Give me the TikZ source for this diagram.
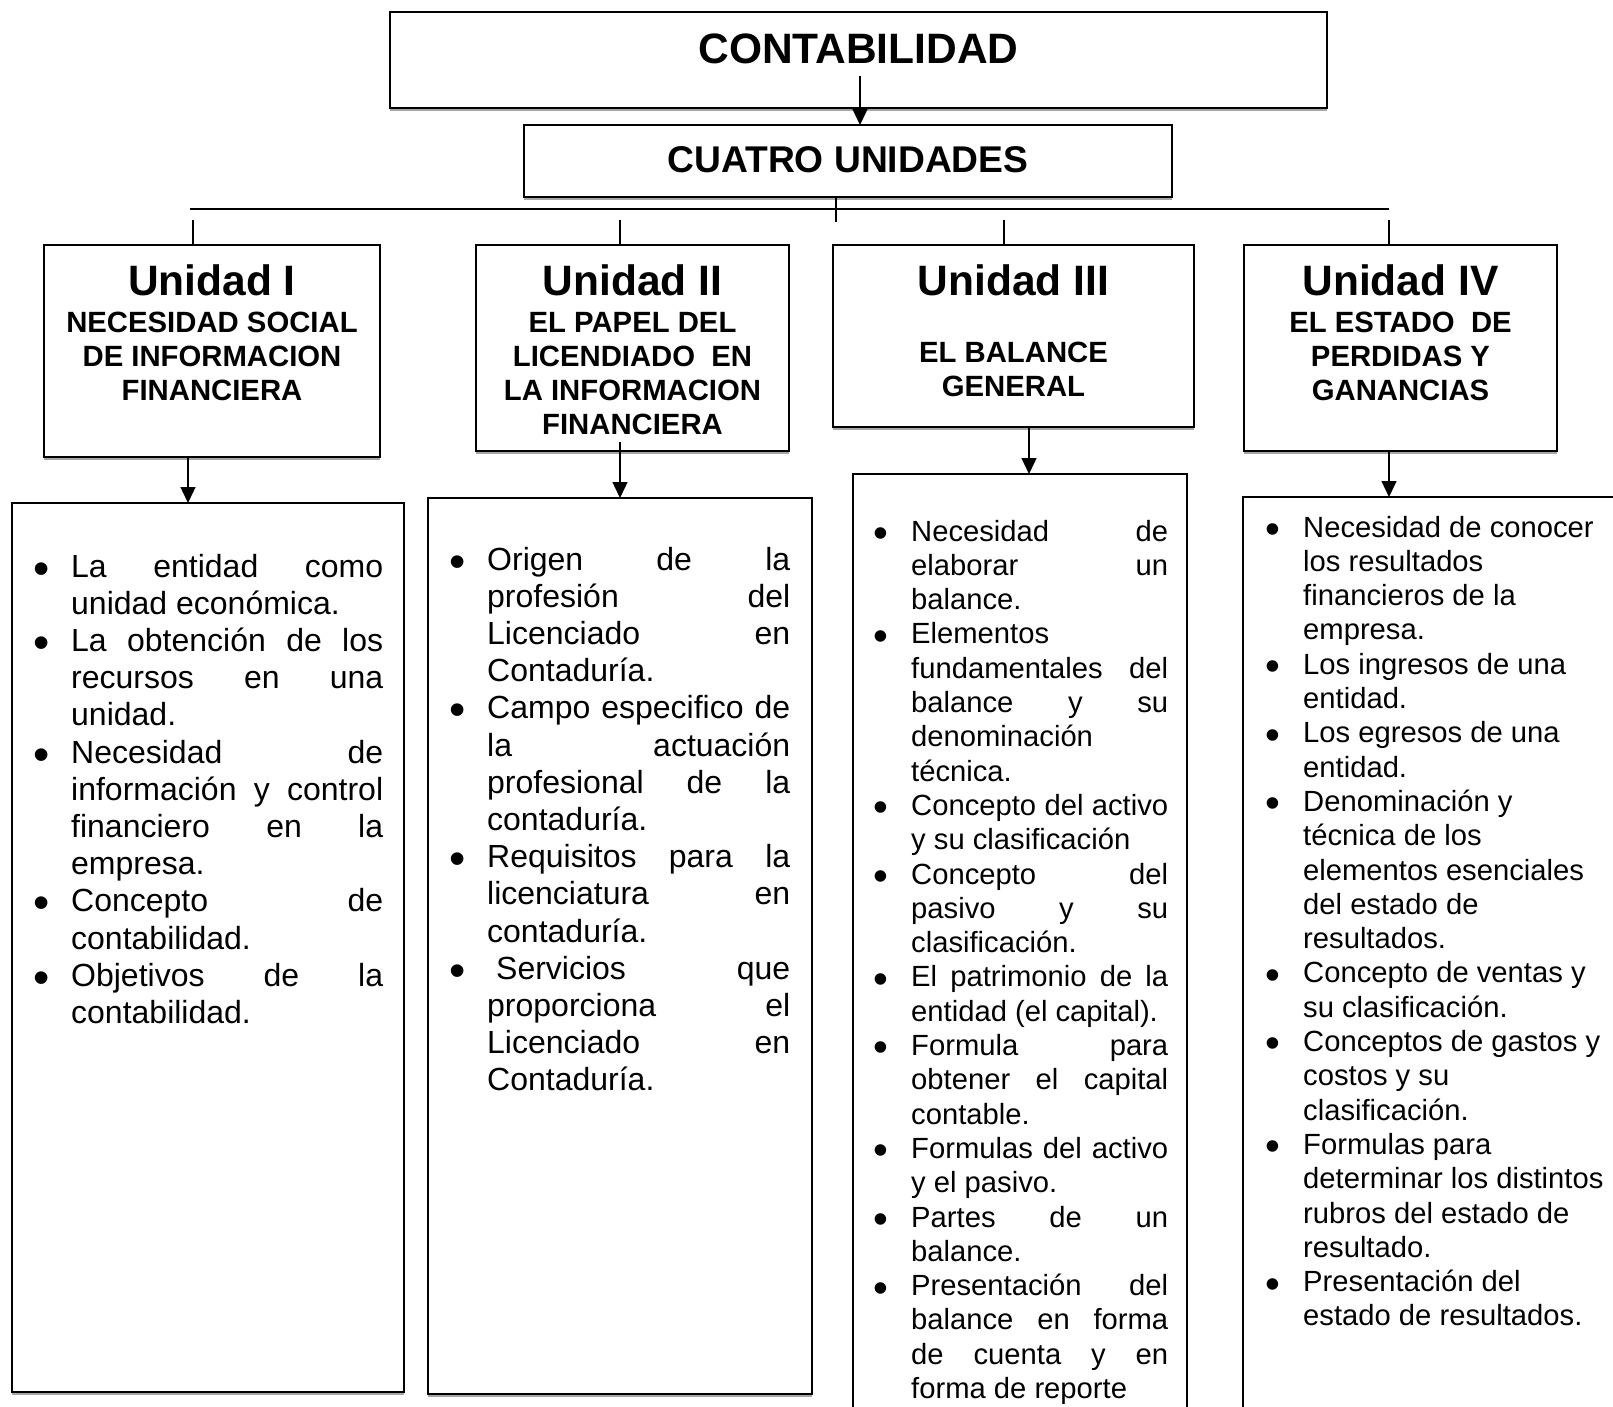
\documentclass[tikz,border=0pt]{standalone}
\usepackage{fontspec}
\setmainfont{Liberation Sans}
\usepackage{graphicx}
\usetikzlibrary{calc, arrows.meta}

\newlength\bulw
\setlength\bulw{36pt}
\newcommand\fbig{\fontsize{42.5pt}{50pt}\selectfont\bfseries}
\newcommand\fmid{\fontsize{37.2pt}{44pt}\selectfont\bfseries}
\newcommand\fsub{\fontsize{29.3pt}{34pt}\selectfont\bfseries}
\newcommand\fbody{\fontsize{32pt}{37.2pt}\selectfont}
\newcommand\fsmall{\fontsize{29.2pt}{34.3pt}\selectfont}
\newcommand\bul{\raisebox{-0.22em}{\scalebox{1.45}{\textbullet}}}
\newcommand\itm{\par\noindent\hangindent=\bulw\hangafter=1\makebox[\bulw][l]{\hspace{-1.5pt}\bul}}
\newcommand\lista[2]{\parbox[t]{\dimexpr#1+\bulw}{\hyphenpenalty=10000\exhyphenpenalty=10000#2}}
\tolerance=10000
\hbadness=10000

\tikzset{
  box/.style = {draw, line width=1.6pt, inner sep=0pt, outer sep=0pt, anchor=north west},
  shadeline/.style = {draw=black!35, line width=1.2pt},
  conn/.style = {line width=1.3pt},
  arr/.style = {conn, -{Triangle[width=15pt, length=16pt]}},
  txt/.style = {inner sep=0pt, anchor=base},
}

\begin{document}
\begin{tikzpicture}[x=1pt, y=-1pt]
  \useasboundingbox (0,0) rectangle (1613,1406);
  \clip (0,0) rectangle (1613,1406);

  % cajas de arriba
  \node[box, minimum width=937pt, minimum height=96pt] (contab) at (390,12) {};
  \node[box, minimum width=648pt, minimum height=72pt] (cuatro) at (524,125) {};
  \node[txt] (contabtxt) at ([yshift=-51pt]contab.north) {\fbig CONTABILIDAD};
  \node[txt] (cuatrotxt) at ([yshift=-47pt]cuatro.north) {\fmid CUATRO UNIDADES};

  % unidades
  \node[box, minimum width=336pt, minimum height=212pt] (u1) at (44,245) {};
  \node[box, minimum width=313pt, minimum height=206pt] (u2) at (476,245) {};
  \node[box, minimum width=361pt, minimum height=182pt] (u3) at (833,245) {};
  \node[box, minimum width=313pt, minimum height=206pt] (u4) at (1244,245) {};

  \node[txt] (u1t) at ([yshift=-50pt]u1.north) {\fbig Unidad I};
  \node[txt] (u2t) at ([yshift=-50pt]u2.north) {\fbig Unidad II};
  \node[txt] (u3t) at ([yshift=-50pt]u3.north) {\fbig Unidad III};
  \node[txt] (u4t) at ([yshift=-50pt]u4.north) {\fbig Unidad IV};

  \node[txt] (u1s) at ([yshift=-87pt]u1.north)
    {\parbox[t]{330pt}{\centering\fsub NECESIDAD SOCIAL\\DE INFORMACION\\FINANCIERA}};
  \node[txt] (u2s) at ([yshift=-87pt]u2.north)
    {\parbox[t]{310pt}{\centering\fsub EL PAPEL DEL\\LICENDIADO~~EN\\LA INFORMACION\\FINANCIERA}};
  \node[txt] (u3s) at ([yshift=-117pt]u3.north)
    {\parbox[t]{350pt}{\centering\fsub EL BALANCE\\GENERAL}};
  \node[txt] (u4s) at ([yshift=-87pt]u4.north)
    {\parbox[t]{310pt}{\centering\fsub EL ESTADO~~DE\\PERDIDAS Y\\GANANCIAS}};

  % cajas con temas
  \node[box, minimum width=392pt, minimum height=889pt] (b1) at (12,503) {};
  \node[box, minimum width=384pt, minimum height=896pt] (b2) at (428,498) {};
  \node[box, minimum width=334pt, minimum height=960pt] (b3) at (853,474) {};
  \node[box, minimum width=400pt, minimum height=940pt] (b4) at (1243,497) {};

  \node[txt, anchor=base west] (b1txt) at ([xshift=23pt, yshift=-74pt]b1.north west)
    {\lista{312pt}{\fbody
      \itm La entidad como \linebreak unidad económica.
      \itm La obtención de los \linebreak recursos en una \linebreak unidad.
      \itm Necesidad de \linebreak información y control \linebreak financiero en la \linebreak empresa.
      \itm Concepto de \linebreak contabilidad.
      \itm Objetivos de la \linebreak contabilidad.}};
  \node[txt, anchor=base west] (b2txt) at ([xshift=23pt, yshift=-72pt]b2.north west)
    {\lista{303pt}{\fbody
      \itm Origen de la \linebreak profesión del \linebreak Licenciado en \linebreak Contaduría.
      \itm Campo especifico de \linebreak la actuación \linebreak profesional de la \linebreak contaduría.
      \itm Requisitos para la \linebreak licenciatura en \linebreak contaduría.
      \itm \hspace*{9pt}Servicios que \linebreak proporciona el \linebreak Licenciado en \linebreak Contaduría.}};
  \node[txt, anchor=base west] (b3txt) at ([xshift=22pt, yshift=-67pt]b3.north west)
    {\lista{257pt}{\fsmall
      \itm Necesidad de \linebreak elaborar un \linebreak balance.
      \itm Elementos \newline fundamentales del \linebreak balance y su \linebreak denominación \newline técnica.
      \itm Concepto del activo \linebreak y su clasificación
      \itm Concepto del \linebreak pasivo y su \linebreak clasificación.
      \itm El patrimonio de la \linebreak entidad (el capital).
      \itm Formula para \linebreak obtener el capital \linebreak contable.
      \itm Formulas del activo \linebreak y el pasivo.
      \itm Partes de un \linebreak balance.
      \itm Presentación del \linebreak balance en forma \linebreak de cuenta y en \linebreak forma de reporte}};
  \node[txt, anchor=base west] (b4txt) at ([xshift=24pt, yshift=-40pt]b4.north west)
    {\lista{320pt}{\fsmall\raggedright
      \itm Necesidad de conocer \newline los resultados \newline financieros de la \newline empresa.
      \itm Los ingresos de una \newline entidad.
      \itm Los egresos de una \newline entidad.
      \itm Denominación y \newline técnica de los \newline elementos esenciales \newline del estado de \newline resultados.
      \itm Concepto de ventas y \newline su clasificación.
      \itm Conceptos de gastos y \newline costos y su \newline clasificación.
      \itm Formulas para \newline determinar los distintos \newline rubros del estado de \newline resultado.
      \itm Presentación del \newline estado de resultados.}};

  % sombra de las cajas
  \foreach \n in {contab, cuatro, u1, u2, u3, u4, b1, b2}
    \draw[shadeline] ([yshift=-2pt]\n.south west) -- ([yshift=-2pt]\n.south east);

  % conectores
  \coordinate (c0) at (860,76);
  \draw[arr] (c0) -- (c0 |- cuatro.north);

  \coordinate (hub) at (836,222);
  \coordinate (hl) at (190,209);
  \coordinate (hr) at (1389,209);
  \draw[conn] (hub |- cuatro.south) -- (hub);
  \draw[conn] (hl) -- (hr);
  \foreach \n/\x in {1/193, 2/620, 3/1004, 4/1389} {
    \coordinate (s\n) at (\x,220);
    \draw[conn] (s\n) -- (s\n |- u\n.north);
  }

  \coordinate (a1) at (188,0);
  \coordinate (a2) at (620,442);
  \coordinate (a3) at (1029,0);
  \coordinate (a4) at (1389,0);
  \draw[arr] (a1 |- u1.south) -- (a1 |- b1.north);
  \draw[arr] (a2) -- (a2 |- b2.north);
  \draw[arr] (a3 |- u3.south) -- (a3 |- b3.north);
  \draw[arr] (a4 |- u4.south) -- (a4 |- b4.north);
\end{tikzpicture}
\end{document}
